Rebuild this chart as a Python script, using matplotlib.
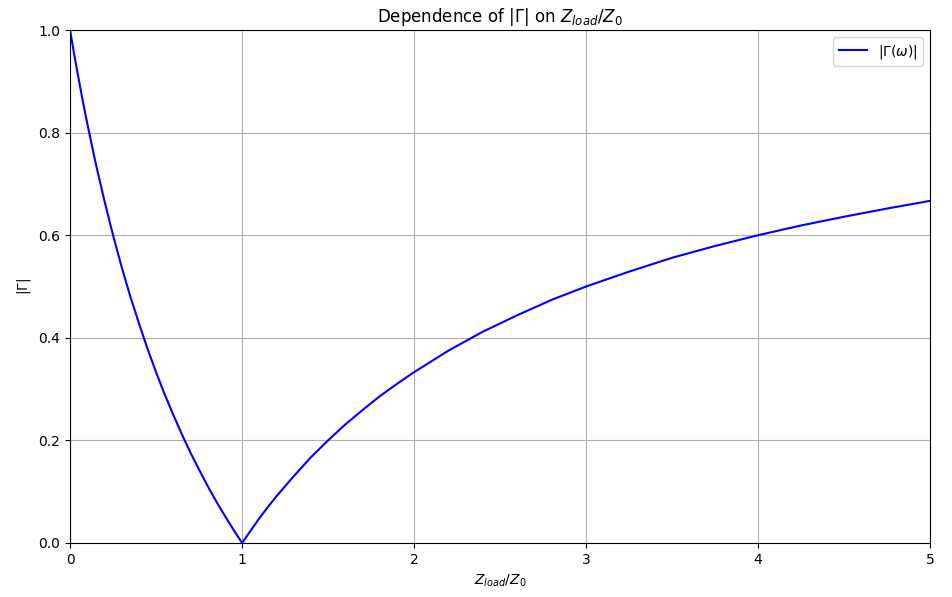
import matplotlib
matplotlib.use('Agg')
import matplotlib.pyplot as plt

# values
z_ratio = [0.0, 0.025, 0.05, 0.075, 0.1, 0.125, 0.15, 0.2, 0.25, 0.3, 0.35, 0.4, 0.45, 0.5,
           0.55, 0.6, 0.65, 0.7, 0.75, 0.8, 0.85, 0.9, 0.95, 1.0,
           1.05, 1.1, 1.15, 1.2, 1.3, 1.4, 1.5, 1.6, 1.7, 1.8, 1.9, 2.0,
           2.2, 2.4, 2.6, 2.8, 3.0, 3.25, 3.5, 3.75, 4.0, 4.25, 4.5, 4.75, 5.0]
gamma_mag = [1.0, 0.951, 0.905, 0.860, 0.818, 0.778, 0.739, 0.667, 0.600, 0.538, 0.481, 0.429, 0.379, 0.333,
             0.290, 0.250, 0.212, 0.176, 0.143, 0.111, 0.081, 0.053, 0.026, 0.0,
             0.024, 0.048, 0.070, 0.091, 0.130, 0.167, 0.200, 0.231, 0.259, 0.286, 0.310, 0.333,
             0.375, 0.412, 0.444, 0.474, 0.500, 0.529, 0.556, 0.579, 0.600, 0.619, 0.636, 0.652, 0.667]

fig, ax = plt.subplots(figsize=(9.53, 5.97), dpi=100)
fig.subplots_adjust(left=0.0735, right=0.976, top=0.9497, bottom=0.0905)

ax.plot(z_ratio, gamma_mag, color='blue', label=r'$|\Gamma(\omega)|$')
ax.set_xlim(0, 5)
ax.set_ylim(0, 1)
ax.set_xlabel(r'$Z_{load}/Z_0$')
ax.set_ylabel(r'$|\Gamma|$')
ax.set_title(r'Dependence of $|\Gamma|$ on $Z_{load}/Z_0$')
ax.grid(True)
ax.legend(loc='upper right')

fig.savefig('out.png')
